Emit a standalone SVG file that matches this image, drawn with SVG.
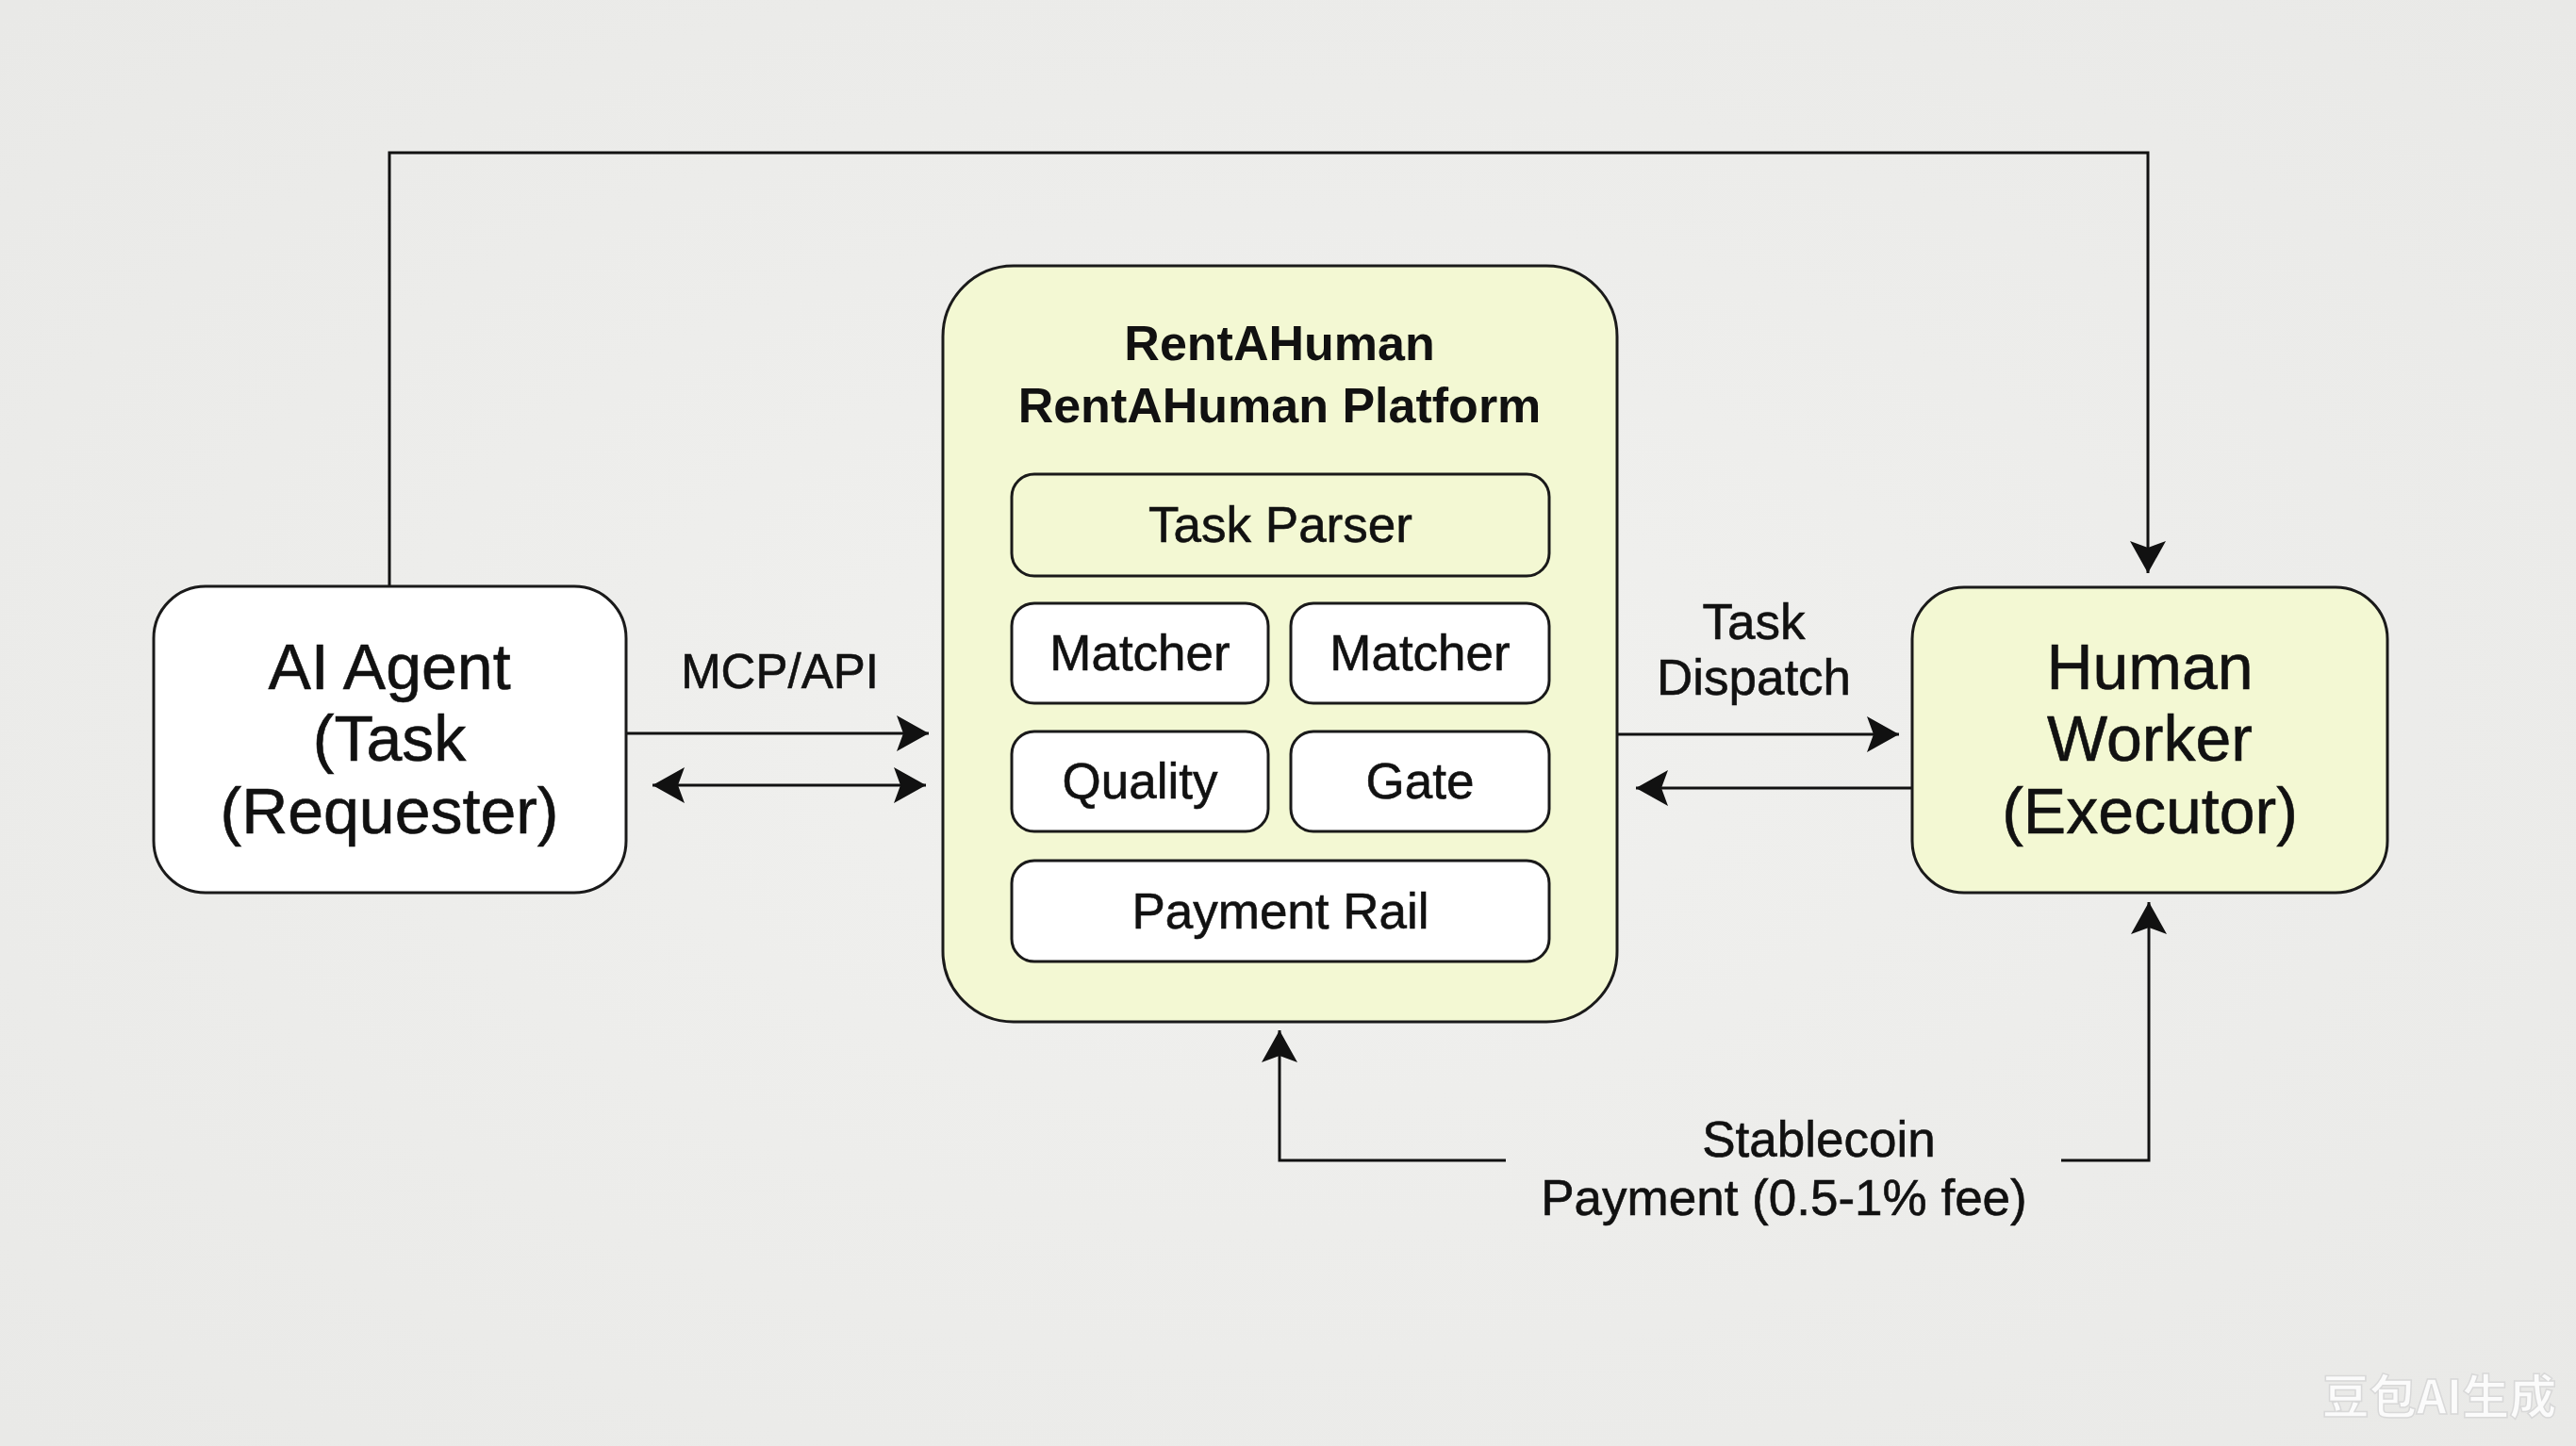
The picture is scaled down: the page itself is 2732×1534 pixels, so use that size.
<svg xmlns="http://www.w3.org/2000/svg" width="2732" height="1534" viewBox="0 0 2732 1534">
<defs>
<radialGradient id="bg" cx="50%" cy="50%" r="70%">
<stop offset="0" stop-color="#f1f1ef"/>
<stop offset="1" stop-color="#e9e9e7"/>
</radialGradient>
<marker id="ah" viewBox="0 0 34 38" refX="34" refY="19" markerWidth="34" markerHeight="38" markerUnits="userSpaceOnUse" orient="auto-start-reverse">
<path d="M0,0 L34,19 L0,38 L7,19 z" fill="#111"/>
</marker>
<style>
.box{stroke:#1a1a1a;stroke-width:3}
.white{fill:#ffffff}
.lime{fill:#f3f8d3}
.t{font-family:"Liberation Sans",Arial,sans-serif;fill:#111;text-anchor:middle;stroke:#111;stroke-width:0.6}
.big{font-size:68px}
.lbl{font-size:53px}
.sub{font-size:53px}
.title{font-size:52px;font-weight:bold;stroke-width:0}
.conn{fill:none;stroke:#111;stroke-width:3}
</style>
</defs>
<rect width="2732" height="1534" fill="url(#bg)"/>

<g id="connectors">
<polyline class="conn" points="413,622 413,162 2278,162 2278,608" marker-end="url(#ah)"/>
<line class="conn" x1="664" y1="778" x2="985" y2="778" marker-end="url(#ah)"/>
<line class="conn" x1="692" y1="833" x2="982" y2="833" marker-start="url(#ah)" marker-end="url(#ah)"/>
<line class="conn" x1="1715" y1="779" x2="2014" y2="779" marker-end="url(#ah)"/>
<line class="conn" x1="2028" y1="836" x2="1735" y2="836" marker-end="url(#ah)"/>
<polyline class="conn" points="2186,1231 2279,1231 2279,957" marker-end="url(#ah)"/>
<polyline class="conn" points="1597,1231 1357,1231 1357,1093" marker-end="url(#ah)"/>
<text class="t lbl" x="827" y="730" style="font-size:51px">MCP/API</text>
<text class="t lbl" x="1860" y="678">Task</text>
<text class="t lbl" x="1860" y="737">Dispatch</text>
<text class="t lbl" x="1929" y="1227">Stablecoin</text>
<text class="t lbl" x="1892" y="1289">Payment (0.5-1% fee)</text>
</g>

<g id="ai-agent">
<rect class="box white" x="163" y="622" width="501" height="325" rx="55" ry="55"/>
<text class="t big" x="413" y="731">AI Agent</text>
<text class="t big" x="413" y="807">(Task</text>
<text class="t big" x="413" y="884">(Requester)</text>
</g>

<g id="platform">
<rect class="box lime" x="1000" y="282" width="715" height="802" rx="75" ry="75"/>
<text class="t title" x="1357" y="382">RentAHuman</text>
<text class="t title" x="1357" y="448">RentAHuman Platform</text>
</g>

<g id="task-parser">
<rect class="box lime" x="1073" y="503" width="570" height="108" rx="24" ry="24"/>
<text class="t sub" x="1358" y="575">Task Parser</text>
</g>
<g id="matcher-1">
<rect class="box white" x="1073" y="640" width="272" height="106" rx="24" ry="24"/>
<text class="t sub" x="1209" y="711">Matcher</text>
</g>
<g id="matcher-2">
<rect class="box white" x="1369" y="640" width="274" height="106" rx="24" ry="24"/>
<text class="t sub" x="1506" y="711">Matcher</text>
</g>
<g id="quality">
<rect class="box white" x="1073" y="776" width="272" height="106" rx="24" ry="24"/>
<text class="t sub" x="1209" y="847">Quality</text>
</g>
<g id="gate">
<rect class="box white" x="1369" y="776" width="274" height="106" rx="24" ry="24"/>
<text class="t sub" x="1506" y="847">Gate</text>
</g>
<g id="payment-rail">
<rect class="box white" x="1073" y="913" width="570" height="107" rx="24" ry="24"/>
<text class="t sub" x="1358" y="985">Payment Rail</text>
</g>

<g id="human-worker">
<rect class="box lime" x="2028" y="623" width="504" height="324" rx="55" ry="55"/>
<text class="t big" x="2280" y="731">Human</text>
<text class="t big" x="2280" y="807">Worker</text>
<text class="t big" x="2280" y="884">(Executor)</text>
</g>

<text x="2587" y="1500" font-family="'Noto Sans CJK SC','Liberation Sans',sans-serif" font-size="50" font-weight="bold" fill="#fbfbfb" stroke="#d8d8d8" stroke-width="1.5" text-anchor="middle">豆包AI生成</text>
</svg>
